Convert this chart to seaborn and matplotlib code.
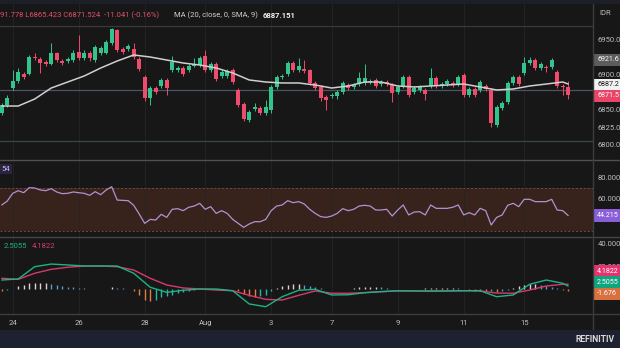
import numpy as np
import pandas as pd
import matplotlib
matplotlib.use("Agg")
import matplotlib.pyplot as plt
from matplotlib.patches import Rectangle
from matplotlib.lines import Line2D
import seaborn as sns

# ---- USD/IDR 4-hour candles, 24 Jul - 16 Aug ----
opens = [6845.7, 6857.1, 6881.4, 6891.4, 6901.4, 6901.4, 6925.7, 6922.9, 6918.6, 6915.7,
         6931.4, 6920.0, 6920.0, 6921.4, 6932.9, 6924.3, 6931.4, 6921.4, 6931.4, 6931.4,
         6945.7, 6964.3, 6937.1, 6937.1, 6937.1, 6922.9, 6897.1, 6867.1, 6881.4, 6884.3,
         6892.9, 6907.1, 6907.1, 6910.0, 6907.1, 6912.9, 6914.3, 6927.1, 6907.1, 6915.7,
         6898.6, 6898.6, 6907.1, 6878.6, 6858.6, 6835.7, 6851.4, 6852.9, 6845.7, 6850.0,
         6882.9, 6897.1, 6901.4, 6917.1, 6907.1, 6908.6, 6907.1, 6888.6, 6882.9, 6868.6,
         6870.0, 6870.0, 6875.7, 6885.7, 6882.9, 6887.1, 6888.6, 6890.0, 6892.9, 6887.1,
         6890.0, 6885.7, 6875.7, 6884.3, 6897.1, 6875.7, 6878.6, 6878.6, 6884.3, 6895.7,
         6884.3, 6887.1, 6888.6, 6887.1, 6900.0, 6871.4, 6880.0, 6878.6, 6884.3, 6878.6,
         6828.6, 6852.9, 6861.4, 6888.6, 6897.1, 6902.9, 6917.1, 6921.4, 6910.0, 6911.4,
         6911.4, 6904.3, 6884.3, 6882.565]
highs = [6860.0, 6871.4, 6907.1, 6910.0, 6904.3, 6928.6, 6931.4, 6925.7, 6921.4, 6945.7,
         6932.9, 6922.9, 6925.7, 6935.7, 6957.1, 6935.7, 6934.3, 6942.9, 6941.4, 6950.0,
         6967.1, 6965.7, 6940.0, 6944.3, 6945.7, 6925.7, 6900.0, 6884.3, 6884.3, 6895.7,
         6895.7, 6927.1, 6912.9, 6912.9, 6915.7, 6924.3, 6927.1, 6935.7, 6918.6, 6918.6,
         6907.1, 6908.6, 6910.0, 6881.4, 6861.4, 6850.0, 6860.0, 6855.7, 6864.3, 6885.7,
         6900.0, 6901.4, 6920.0, 6920.0, 6924.3, 6921.4, 6909.0, 6891.4, 6885.7, 6871.4,
         6874.3, 6878.6, 6891.4, 6888.6, 6888.6, 6904.3, 6915.7, 6894.0, 6895.7, 6892.9,
         6892.9, 6888.6, 6885.7, 6900.0, 6900.0, 6884.3, 6885.7, 6881.4, 6910.0, 6898.6,
         6890.0, 6894.3, 6891.4, 6900.0, 6902.9, 6882.9, 6882.9, 6892.9, 6887.1, 6881.4,
         6857.1, 6862.9, 6891.4, 6900.0, 6900.0, 6925.7, 6925.7, 6924.3, 6918.6, 6914.3,
         6924.3, 6907.1, 6887.1, 6891.778]
lows = [6843.0, 6854.3, 6878.6, 6888.6, 6894.3, 6900.0, 6921.4, 6902.9, 6912.9, 6914.3,
        6918.6, 6914.3, 6917.1, 6918.6, 6921.4, 6921.4, 6920.0, 6918.6, 6928.6, 6930.0,
        6942.9, 6932.9, 6930.0, 6934.3, 6922.9, 6905.7, 6862.9, 6857.1, 6872.9, 6881.4,
        6871.4, 6904.3, 6904.3, 6898.6, 6904.3, 6911.4, 6911.4, 6904.3, 6904.3, 6891.4,
        6895.7, 6895.7, 6887.1, 6854.3, 6834.3, 6832.9, 6848.6, 6842.9, 6842.9, 6845.7,
        6880.0, 6894.3, 6898.6, 6904.3, 6904.3, 6902.9, 6885.7, 6878.6, 6862.9, 6850.0,
        6867.1, 6865.7, 6872.9, 6878.6, 6880.0, 6884.3, 6885.7, 6887.0, 6881.4, 6884.3,
        6884.3, 6861.4, 6872.9, 6881.4, 6868.6, 6872.9, 6875.7, 6864.3, 6881.4, 6881.4,
        6881.4, 6884.3, 6882.9, 6884.3, 6868.6, 6868.6, 6868.6, 6875.7, 6877.1, 6825.7,
        6825.7, 6850.0, 6858.6, 6885.7, 6884.3, 6900.0, 6914.3, 6907.1, 6907.1, 6904.3,
        6908.6, 6881.4, 6871.4, 6865.423]
closes = [6857.1, 6867.1, 6891.4, 6904.3, 6897.1, 6925.7, 6924.3, 6917.1, 6915.7, 6931.4,
          6921.4, 6917.1, 6922.9, 6931.4, 6924.3, 6931.4, 6924.3, 6940.0, 6938.6, 6947.1,
          6965.7, 6935.7, 6932.9, 6941.4, 6925.7, 6908.6, 6867.1, 6881.4, 6875.7, 6892.9,
          6881.4, 6918.6, 6910.0, 6901.4, 6912.9, 6915.7, 6924.3, 6907.1, 6915.7, 6894.3,
          6904.3, 6905.7, 6890.0, 6857.1, 6837.1, 6847.1, 6854.3, 6845.7, 6854.3, 6882.9,
          6897.1, 6898.6, 6917.1, 6907.1, 6912.9, 6905.7, 6888.6, 6881.4, 6867.1, 6864.3,
          6871.4, 6875.7, 6888.6, 6881.4, 6885.7, 6895.7, 6895.7, 6890.5, 6884.3, 6890.0,
          6887.1, 6874.3, 6882.9, 6897.1, 6871.4, 6881.4, 6882.9, 6872.9, 6895.7, 6884.3,
          6887.1, 6891.4, 6885.7, 6897.1, 6871.4, 6880.0, 6871.4, 6890.0, 6880.0, 6831.4,
          6854.3, 6860.0, 6888.6, 6897.1, 6887.1, 6917.1, 6921.4, 6910.0, 6915.7, 6910.0,
          6921.4, 6884.3, 6882.565, 6871.524]

# MA(20, close) line, read at every third candle
ma_idx = [0, 3, 6, 9, 12, 15, 18, 21, 24, 27, 30, 33, 36, 39, 42, 45, 48, 51, 54, 57,
          60, 63, 66, 69, 72, 75, 78, 81, 84, 87, 90, 93, 96, 99, 102, 103]
ma_vals = [6855.7, 6855.7, 6865.7, 6881.4, 6890.0, 6898.6, 6910.0, 6920.0, 6928.6, 6925.7,
           6921.4, 6917.1, 6914.3, 6910.0, 6902.9, 6892.9, 6890.0, 6888.6, 6888.6, 6885.7,
           6881.4, 6884.3, 6890.0, 6890.0, 6884.3, 6882.9, 6884.3, 6885.7, 6887.1, 6882.9,
           6878.6, 6880.0, 6884.3, 6887.1, 6890.0, 6887.151]

# RSI(14), one value per candle
rsi_vals = [54.3, 58.0, 65.4, 67.9, 66.0, 70.8, 70.5, 68.6, 67.9, 69.8,
            66.7, 65.1, 65.4, 66.7, 66.0, 65.4, 63.5, 67.0, 64.1, 68.6,
            71.7, 59.0, 58.7, 58.4, 54.0, 45.7, 36.8, 40.6, 40.0, 45.4,
            42.5, 50.2, 50.8, 48.9, 52.1, 53.3, 55.9, 50.2, 52.7, 46.3,
            48.9, 46.3, 40.6, 36.8, 33.0, 36.2, 38.4, 38.4, 40.6, 48.9,
            53.3, 54.3, 58.4, 56.5, 57.5, 55.3, 50.2, 46.3, 43.2, 42.5,
            43.8, 46.3, 50.8, 48.9, 50.2, 53.3, 54.0, 53.3, 49.5, 49.5,
            50.2, 43.8, 49.5, 54.3, 44.8, 47.6, 47.9, 44.8, 54.3, 51.1,
            51.1, 51.1, 52.1, 54.3, 44.8, 47.0, 44.8, 51.1, 48.9, 35.2,
            42.5, 44.8, 54.0, 55.9, 52.7, 59.7, 59.7, 57.5, 57.5, 57.5,
            59.7, 49.5, 48.9, 44.2154]

# MACD and signal lines, read at every third candle
macd_idx = ma_idx
macd_vals = [7.8, 8.7, 19.4, 21.7, 20.9, 20.0, 20.0, 20.0, 13.7, 1.5,
             -2.9, -1.1, 0.0, 0.0, -1.5, -13.0, -15.4, -6.7, -1.1, -0.3,
             -5.2, -5.0, -3.2, -2.3, -1.5, -1.7, -1.7, -1.7, -1.5, -1.5,
             -6.7, -5.2, 4.1, 7.8, 5.0, 2.5055]
signal_vals = [9.3, 8.4, 13.7, 17.1, 18.9, 20.0, 20.0, 19.4, 16.5, 9.3,
               3.5, 0.9, 0.0, -0.9, -1.5, -5.5, -9.0, -9.6, -5.5, -1.7,
               -3.7, -3.7, -3.2, -2.3, -1.7, -1.7, -2.0, -1.7, -1.5, -1.7,
               -3.5, -3.7, -0.9, 2.6, 4.1, 4.1822]
# MACD histogram, one bar per candle
hist_vals = [-2.0, -1.0, 0.2, 2.3, 3.2, 5.2, 5.2, 5.2, 5.2, 4.3,
             3.2, 2.3, 1.7, 1.4, 0.9, 0.6, 0.3, 0.2, 0.1, 0.3,
             1.4, 0.9, 0.6, 0.3, -2.0, -4.9, -9.3, -10.1, -9.3, -7.2,
             -6.4, -4.9, -3.5, -2.6, -1.4, -0.9, -0.3, 0.3, 0.4, 0.4,
             0.3, 0.2, -0.3, -2.0, -4.3, -6.4, -7.2, -6.4, -4.9, -2.0,
             0.9, 2.3, 3.8, 4.3, 4.3, 3.5, 2.3, 1.4, 0.6, -0.3,
             -0.3, -0.3, 0.2, 0.3, 0.9, 1.4, 1.4, 1.7, 1.7, 1.4,
             0.9, 0.3, 0.2, 0.3, 0.2, 0.3, 0.3, 0.6, 0.9, 0.9,
             0.9, 0.9, 0.9, 0.6, 0.4, -0.6, -1.4, -1.7, -2.0, -2.0,
             -2.9, -2.0, -0.6, 0.9, 2.3, 3.2, 4.3, 4.3, 3.8, 2.9,
             1.4, 0.9, -0.6, -1.676]

# session starts shown on the time axis
date_ticks = [2, 14, 26, 37, 49, 60, 72, 84, 95]
date_labels = ["24", "26", "28", "Aug", "3", "7", "9", "11", "15"]

# level lines on the price pane
level_lines = [6970.0, 6878.6, 6805.7]
price_ticks = [6800.0, 6825.0, 6850.0, 6900.0, 6950.0]
rsi_ticks = [40.0, 60.0, 80.0]
macd_ticks = [20.0, 40.0]
marker_high = 6921.6

# ---------------------------------------------------------------
BG = "#171717"
UP = "#33c48d"
DOWN = "#ef4b6c"
TXT = "#bdbdbd"
W, H = 620, 348

sns.set_theme(style="dark", rc={"axes.facecolor": BG, "figure.facecolor": BG})
plt.rcParams["font.family"] = ["Roboto", "DejaVu Sans"]

fig = plt.figure(figsize=(6.2, 3.48), dpi=100, facecolor=BG)


def px_rect(top, bottom, left=0, right=593):
    return [left / W, 1 - bottom / H, (right - left) / W, (bottom - top) / H]


def fx(x):
    return x / W


def fy(y):
    return 1 - y / H


ax_p = fig.add_axes(px_rect(0, 160))
ax_r = fig.add_axes(px_rect(160, 237))
ax_m = fig.add_axes(px_rect(237, 314))

n = len(closes)
idx = np.arange(n)
df = pd.DataFrame({"i": idx, "open": opens, "high": highs, "low": lows, "close": closes})
df["up"] = df["close"] >= df["open"]
df["col"] = np.where(df["up"], UP, DOWN)
body_lo = df[["open", "close"]].min(axis=1)
body_h = (df["close"] - df["open"]).abs().clip(lower=1.4)

for ax in (ax_p, ax_r, ax_m):
    ax.set_facecolor(BG)
    for s in ax.spines.values():
        s.set_visible(False)
    ax.yaxis.tick_right()
    ax.tick_params(axis="y", length=0, pad=3.6, labelsize=5.5, labelcolor=TXT)
    ax.tick_params(axis="x", length=0)
    ax.set_xticks(date_ticks)
    ax.grid(axis="x", color="#252525", lw=0.6)
    ax.grid(axis="y", visible=False)
    ax.set_xlim(-0.31, 107.51)

# ---- price pane ----
ax_p.set_ylim(6778.57, 7007.14)
for lvl, c in zip(level_lines, ["#3a3a3a", "#4d5366", "#334b4b"]):
    ax_p.axhline(lvl, color=c, lw=0.9, zorder=1)
ax_p.vlines(df["i"], df["low"], df["high"], colors=df["col"], lw=0.7, zorder=2)
ax_p.bar(df["i"], body_h, bottom=body_lo, width=0.68, color=df["col"], lw=0, zorder=3)
sns.lineplot(x=ma_idx, y=ma_vals, ax=ax_p, color="#cfcfcf", lw=1.1, zorder=4)
ax_p.set_yticks(price_ticks)
ax_p.set_yticklabels([f"{v:.1f}" for v in price_ticks])
ax_p.tick_params(axis="x", labelbottom=False)

# ---- RSI pane ----
ax_r.set_ylim(23.81, 97.14)
ax_r.axhspan(30, 70, color="#37231b", lw=0, zorder=0)
for lvl in (30, 70):
    ax_r.axhline(lvl, color="#6e4c3d", lw=0.7, ls=(0, (2, 2)), zorder=1)
sns.lineplot(x=idx, y=rsi_vals, ax=ax_r, color="#b490d2", lw=0.9, zorder=3)
ax_r.set_yticks(rsi_ticks)
ax_r.set_yticklabels([f"{v:.3f}" for v in rsi_ticks])
ax_r.tick_params(axis="x", labelbottom=False)

# ---- MACD pane ----
ax_m.set_ylim(-21.74, 45.22)
hist_cols = []
prev = 0.0
for v in hist_vals:
    if v >= 0:
        hist_cols.append("#e6ccd6" if v >= prev else "#4f9fd8")
    else:
        hist_cols.append("#2bb5a8" if v >= prev else "#e47a45")
    prev = v
ax_m.vlines(idx, 0, hist_vals, colors=hist_cols, lw=1.0, zorder=2)
sns.lineplot(x=macd_idx, y=signal_vals, ax=ax_m, color="#d63a6e", lw=1.0, zorder=3)
sns.lineplot(x=macd_idx, y=macd_vals, ax=ax_m, color="#1db287", lw=1.0, zorder=4)
ax_m.set_yticks(macd_ticks)
ax_m.set_yticklabels([f"{v:.3f}" for v in macd_ticks])
ax_m.set_xticklabels(date_labels)
ax_m.tick_params(axis="x", pad=4.0, labelsize=5.5, labelcolor=TXT)

for ax in (ax_p, ax_r, ax_m):
    ax.set_xlabel("")
    ax.set_ylabel("")


def value_tag(ax, value, text, face, ink="white", shift_px=0.0):
    ax.annotate(text, xy=(1.0, value), xycoords=("axes fraction", "data"),
                xytext=(3.0, shift_px * 0.72), textcoords="offset points",
                ha="left", va="center", fontsize=5.1, color=ink,
                bbox=dict(boxstyle="square,pad=0.4", fc=face, ec="none"),
                annotation_clip=False, zorder=10)


value_tag(ax_p, marker_high, f"{marker_high:.1f}", "#5c5c5c")
value_tag(ax_p, ma_vals[-1], f"{ma_vals[-1]:.1f}", "#f2f2f2", ink="#151515", shift_px=-1)
value_tag(ax_p, closes[-1], f"{closes[-1]:.1f}", "#ea4567", shift_px=-1)
value_tag(ax_r, rsi_vals[-1], f"{rsi_vals[-1]:.3f}", "#8a5ed8")
value_tag(ax_m, signal_vals[-1], f"{signal_vals[-1]:.4f}", "#e5336f", shift_px=13)
value_tag(ax_m, macd_vals[-1], f"{macd_vals[-1]:.4f}", "#12a37f", shift_px=3.5)
value_tag(ax_m, hist_vals[-1], f"{hist_vals[-1]:.3f}", "#d9703f", shift_px=-3)

# ---- pane separators, frame and footer ----
for y, c in ((160, "#505050"), (237, "#454545"), (314, "#3c3c3c")):
    fig.add_artist(Line2D([0, 1], [fy(y), fy(y)], color=c, lw=1.0, zorder=6))
fig.add_artist(Line2D([fx(593), fx(593)], [fy(330), 1], color="#3c3c3c", lw=1.0, zorder=6))
fig.add_artist(Rectangle((0, 0), 1, 18 / H, transform=fig.transFigure,
                         fc="#1e2230", ec="none", zorder=6))
fig.add_artist(Rectangle((0, fy(4)), 1, 4 / H, transform=fig.transFigure,
                         fc="#1c1f28", ec="none", zorder=6))

# ---- legends ----
chg = closes[-1] - closes[-2]
pct = chg / closes[-2] * 100
fig.text(fx(0), fy(15), f"{highs[-1]:.3f}"[2:] + f" L{lows[-1]:.3f} C{closes[-1]:.3f}  {chg:.3f} ({pct:.2f}%)",
         color="#e0506b", fontsize=5.5, va="center", ha="left")
fig.text(fx(174), fy(15), "MA (20, close, 0, SMA, 9)", color="#cfcfcf",
         fontsize=5.5, va="center", ha="left")
fig.text(fx(263), fy(15), f"{ma_vals[-1]:.3f}", color="#f2f2f2",
         fontsize=5.5, va="center", ha="left", fontweight="bold")
fig.text(fx(599), fy(13), "IDR", color=TXT, fontsize=5.5, va="center", ha="left")
fig.text(fx(1), fy(169), "54", color="#cdb8f2", fontsize=5.5, va="center", ha="left",
         bbox=dict(boxstyle="square,pad=0.3", fc="#2a2440", ec="none"))
fig.text(fx(4), fy(246), f"{macd_vals[-1]:.4f}", color="#1db287", fontsize=5.5,
         va="center", ha="left")
fig.text(fx(32), fy(246), f"{signal_vals[-1]:.4f}", color="#d63a6e", fontsize=5.5,
         va="center", ha="left")
fig.text(fx(615), fy(339), "REFINITIV", color="#d9d9d9", fontsize=6.2,
         fontweight="bold", va="center", ha="right", zorder=7)

fig.savefig("out.png", dpi=100, facecolor=BG)
